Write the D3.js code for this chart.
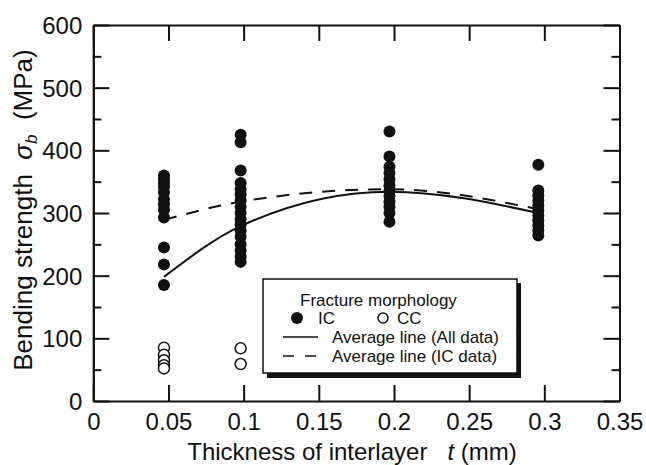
<html>
<head>
	<script src="https://cdn.jsdelivr.net/npm/d3@7"></script>
	<style>
		body { margin: 0; background: #fff; }
		text { font-family: "Liberation Sans", Arial, Helvetica, sans-serif; fill: #111; }
	</style>
</head>
<body>
	<script>
		// thickness of interlayer (mm) for each test group
		var thickness = [0.047, 0.098, 0.197, 0.296];
		// bending strength (MPa), fracture IC (filled) per group
		var icStrength = [
			[360, 354, 348, 342, 333, 322, 314, 305, 293, 245, 218, 185],
			[425, 413, 368, 348, 338, 330, 320, 310, 300, 290, 282, 272, 262, 250, 240, 230, 222],
			[430, 390, 374, 364, 354, 344, 335, 327, 318, 310, 300, 286],
			[377, 336, 328, 320, 312, 304, 296, 288, 280, 272, 264]
		];
		// fracture CC (open) per group
		var ccStrength = [
			[85, 74, 65, 57, 52],
			[84, 59],
			[],
			[]
		];
		var avgAll = [198, 279, 334, 300];
		var avgIC = [289, 318, 338, 306];

		var xTicks = [0, 0.05, 0.1, 0.15, 0.2, 0.25, 0.3, 0.35];
		var xTickLabels = ["0", "0.05", "0.1", "0.15", "0.2", "0.25", "0.3", "0.35"];
		var yTicks = [0, 100, 200, 300, 400, 500, 600];
		var yMinorTicks = [50, 150, 250, 350, 450, 550];

		var w = 646, h = 465;
		var m = {left: 93.3, right: 26.5, top: 25, bottom: 64};

		var xScale = d3.scaleLinear().domain([0, 0.35]).range([m.left, w - m.right]);
		var yScale = d3.scaleLinear().domain([0, 600]).range([h - m.bottom, m.top]);

		var svg = d3.select("body").append("svg").attr("width", w).attr("height", h);

		function styleAxis(g) {
			g.selectAll("path").attr("stroke", "#111").attr("stroke-width", 2);
			g.selectAll("line").attr("stroke", "#111").attr("stroke-width", 2);
			g.selectAll("text").style("font-size", "24px").attr("fill", "#111")
				.style("font-family", '"Liberation Sans", Arial, sans-serif');
		}

		// AXIS
		var xAxis = d3.axisBottom(xScale).tickValues(xTicks).tickSizeInner(-16).tickSizeOuter(0).tickPadding(12)
			.tickFormat(function(d, i){ return xTickLabels[i]; });
		svg.append("g").attr("transform", "translate(0," + (h - m.bottom) + ")").call(xAxis).call(styleAxis);

		var xTop = d3.axisTop(xScale).tickValues(xTicks).tickSizeInner(-16).tickSizeOuter(0).tickFormat("");
		svg.append("g").attr("transform", "translate(0," + m.top + ")").call(xTop).call(styleAxis);

		var yAxis = d3.axisLeft(yScale).tickValues(yTicks).tickSizeInner(-16).tickSizeOuter(0).tickPadding(11);
		svg.append("g").attr("transform", "translate(" + m.left + ",0)").call(yAxis).call(styleAxis)
			.selectAll("text").attr("dy", "0.36em");
		var yMinor = d3.axisLeft(yScale).tickValues(yMinorTicks).tickSizeInner(-8).tickSizeOuter(0).tickFormat("");
		svg.append("g").attr("transform", "translate(" + m.left + ",0)").call(yMinor).call(styleAxis);

		var yRight = d3.axisRight(yScale).tickValues(yTicks).tickSizeInner(-16).tickSizeOuter(0).tickFormat("");
		svg.append("g").attr("transform", "translate(" + (w - m.right) + ",0)").call(yRight).call(styleAxis);
		var yRightMinor = d3.axisRight(yScale).tickValues(yMinorTicks).tickSizeInner(-8).tickSizeOuter(0).tickFormat("");
		svg.append("g").attr("transform", "translate(" + (w - m.right) + ",0)").call(yRightMinor).call(styleAxis);

		// average lines
		var lineAll = d3.line().curve(d3.curveMonotoneX)
			.x(function(d, i){ return xScale(thickness[i]); }).y(function(d){ return yScale(d); });
		svg.append("path").attr("d", lineAll(avgAll)).attr("fill", "none").attr("stroke", "#111").attr("stroke-width", 2);
		svg.append("path").attr("d", lineAll(avgIC)).attr("fill", "none").attr("stroke", "#111").attr("stroke-width", 2)
			.attr("stroke-dasharray", "13,10");

		// points
		var icPts = [], ccPts = [];
		thickness.forEach(function(t, i){
			icStrength[i].forEach(function(v){ icPts.push({t: t, v: v}); });
			ccStrength[i].forEach(function(v){ ccPts.push({t: t, v: v}); });
		});
		svg.append("g").selectAll("circle").data(icPts).enter().append("circle")
			.attr("cx", function(d){ return xScale(d.t); }).attr("cy", function(d){ return yScale(d.v); })
			.attr("r", 6).attr("fill", "#111");
		svg.append("g").selectAll("circle").data(ccPts).enter().append("circle")
			.attr("cx", function(d){ return xScale(d.t); }).attr("cy", function(d){ return yScale(d.v); })
			.attr("r", 5.5).attr("fill", "#fff").attr("stroke", "#111").attr("stroke-width", 1.5);

		// axis titles
		svg.append("text").attr("transform", "translate(32,210) rotate(-90)").attr("text-anchor", "middle")
			.style("font-size", "26px").style("white-space", "pre")
			.html('Bending strength  <tspan font-style="italic">σ</tspan><tspan font-size="17px" font-style="italic" dy="5">b</tspan><tspan dy="-5">  (MPa)</tspan>');
		svg.append("text").attr("x", 352).attr("y", 460).attr("text-anchor", "middle")
			.style("font-size", "24px").style("white-space", "pre")
			.html('Thickness of interlayer   <tspan font-style="italic">t</tspan> (mm)');

		// legend
		var lg = svg.append("g");
		lg.append("rect").attr("x", 267).attr("y", 283).attr("width", 254).attr("height", 95).attr("fill", "#111");
		lg.append("rect").attr("x", 263).attr("y", 279).attr("width", 254).attr("height", 94)
			.attr("fill", "#fff").attr("stroke", "#111").attr("stroke-width", 1.5);
		lg.append("text").attr("x", 300).attr("y", 306).style("font-size", "17px").text("Fracture morphology");
		lg.append("circle").attr("cx", 297).attr("cy", 318).attr("r", 6).attr("fill", "#111");
		lg.append("text").attr("x", 318).attr("y", 324).style("font-size", "17px").text("IC");
		lg.append("circle").attr("cx", 383).attr("cy", 318).attr("r", 5).attr("fill", "#fff")
			.attr("stroke", "#111").attr("stroke-width", 1.5);
		lg.append("text").attr("x", 397).attr("y", 324).style("font-size", "17px").text("CC");
		lg.append("line").attr("x1", 283).attr("x2", 318).attr("y1", 337).attr("y2", 337)
			.attr("stroke", "#111").attr("stroke-width", 1.5);
		lg.append("text").attr("x", 332).attr("y", 343).style("font-size", "17px").text("Average line (All data)");
		lg.append("line").attr("x1", 283).attr("x2", 318).attr("y1", 356).attr("y2", 356)
			.attr("stroke", "#111").attr("stroke-width", 1.5).attr("stroke-dasharray", "11,11");
		lg.append("text").attr("x", 332).attr("y", 362).style("font-size", "17px").text("Average line (IC data)");
	</script>
</body>
</html>
